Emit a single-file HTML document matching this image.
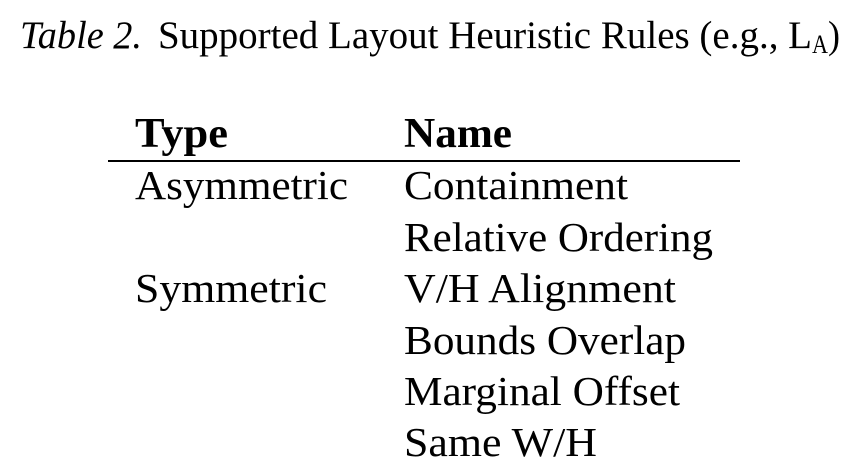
<!DOCTYPE html>
<html><head><meta charset="utf-8"><style>
html,body{margin:0;padding:0;background:#fff;width:854px;height:476px;overflow:hidden}
svg text{font-family:"Liberation Serif",serif;fill:#000}
</style></head><body>
<svg width="854" height="476" viewBox="0 0 854 476" xmlns="http://www.w3.org/2000/svg">
<text x="20" y="48" font-size="39" font-style="italic" textLength="122" lengthAdjust="spacingAndGlyphs">Table 2.</text>
<text x="158" y="48" font-size="39" textLength="654" lengthAdjust="spacingAndGlyphs">Supported Layout Heuristic Rules (e.g., L</text>
<text x="812" y="53" font-size="26" textLength="16" lengthAdjust="spacingAndGlyphs">A</text>
<text x="828" y="48" font-size="39" textLength="12" lengthAdjust="spacingAndGlyphs">)</text>
<text x="135" y="147" font-size="42" font-weight="bold" textLength="93" lengthAdjust="spacingAndGlyphs">Type</text>
<text x="404" y="147" font-size="42" font-weight="bold" textLength="108" lengthAdjust="spacingAndGlyphs">Name</text>
<rect x="108" y="160" width="632" height="2" fill="#000"/>
<g font-size="41">
<text x="135" y="199" textLength="213" lengthAdjust="spacingAndGlyphs">Asymmetric</text>
<text x="404" y="199" textLength="224" lengthAdjust="spacingAndGlyphs">Containment</text>
<text x="404" y="251" textLength="309" lengthAdjust="spacingAndGlyphs">Relative Ordering</text>
<text x="135" y="302" textLength="192" lengthAdjust="spacingAndGlyphs">Symmetric</text>
<text x="404" y="302" textLength="272" lengthAdjust="spacingAndGlyphs">V/H Alignment</text>
<text x="404" y="354" textLength="282" lengthAdjust="spacingAndGlyphs">Bounds Overlap</text>
<text x="404" y="405" textLength="276" lengthAdjust="spacingAndGlyphs">Marginal Offset</text>
<text x="404" y="456" textLength="193" lengthAdjust="spacingAndGlyphs">Same W/H</text>
</g>
</svg>
</body></html>
